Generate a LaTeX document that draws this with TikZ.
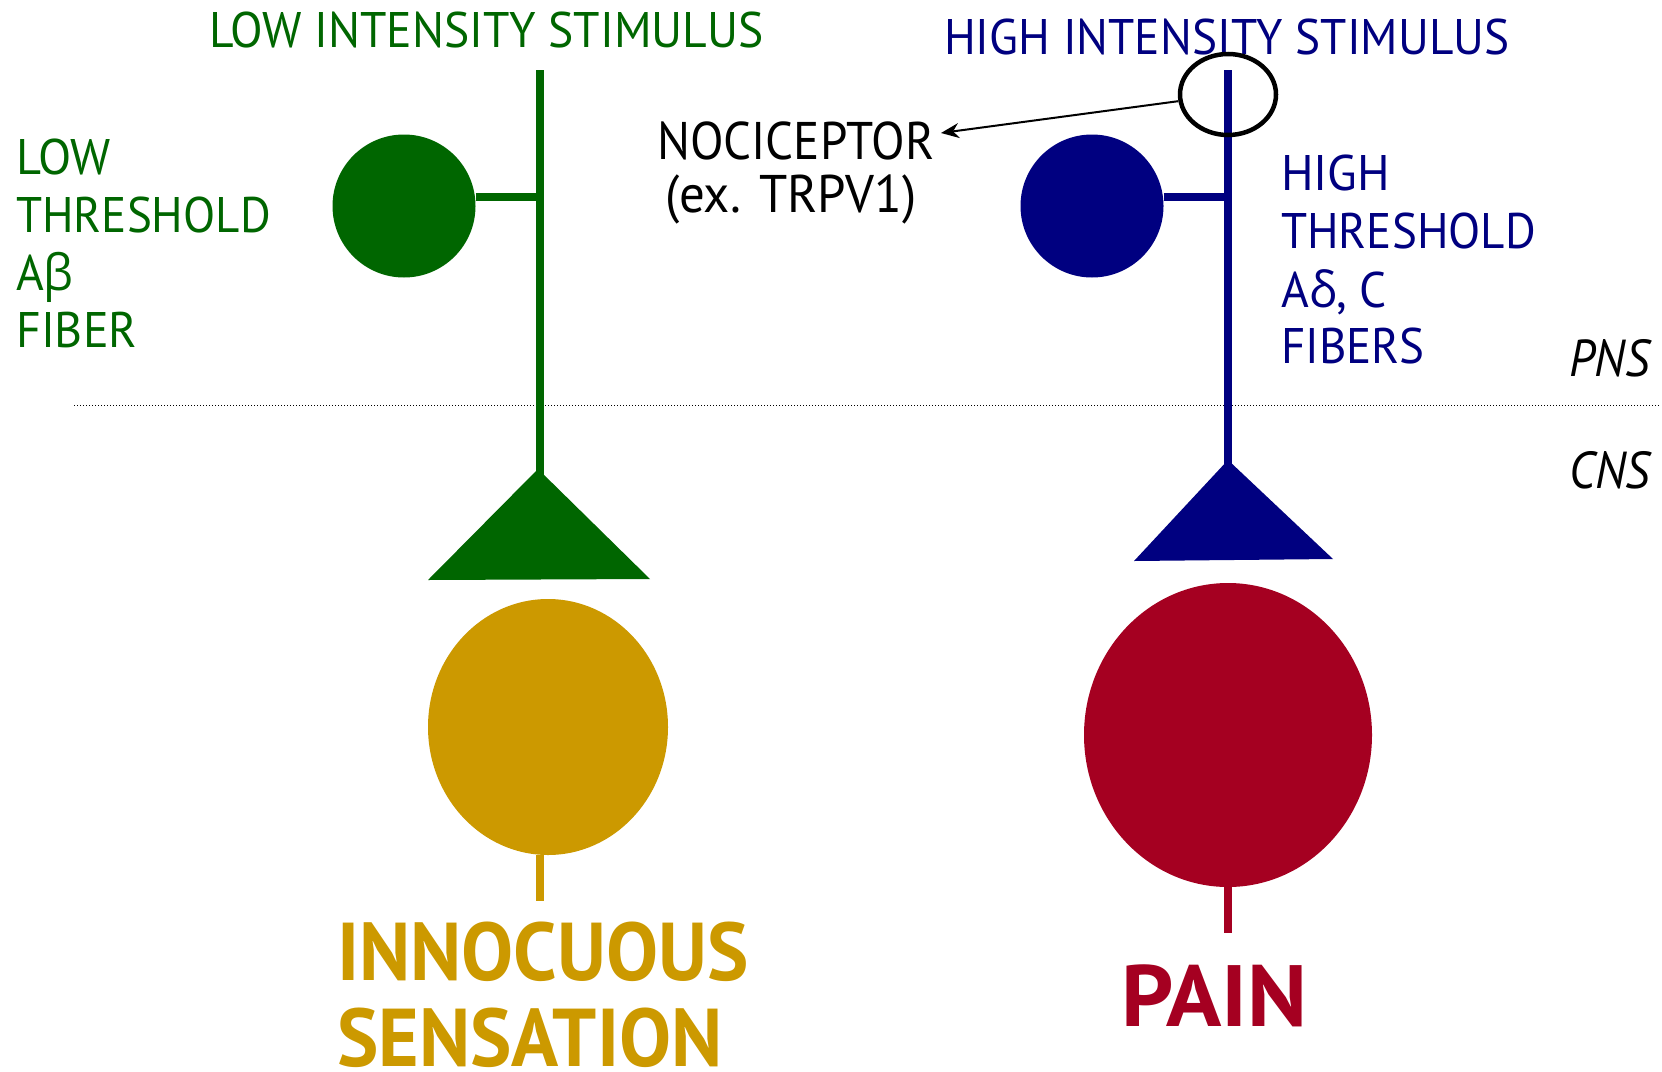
\documentclass[tikz,border=0pt]{standalone}
\usepackage{fontspec}
\setmainfont{PT Sans}
\newfontfamily\grk{Open Sans}
\usetikzlibrary{shapes.geometric,arrows.meta}
\definecolor{grn}{RGB}{0,102,0}
\definecolor{nav}{RGB}{0,0,128}
\definecolor{ylw}{RGB}{204,153,0}
\definecolor{rdd}{RGB}{165,0,33}
\newcommand\sqz[2]{\scalebox{#1}[1]{#2}}
\tikzset{
  lbl/.style={inner sep=0pt, anchor=base west, font=\fontsize{50}{57}\selectfont},
  ital/.style={inner sep=0pt, anchor=base west, font=\fontsize{52}{57}\selectfont\itshape},
  big/.style={inner sep=0pt, anchor=base west, font=\fontsize{82}{90}\selectfont\bfseries},
  soma/.style={circle, inner sep=0pt, minimum size=143pt},
  cell/.style={ellipse, inner sep=0pt},
  axon/.style={line width=7.5pt}
}
\begin{document}
\begin{tikzpicture}[x=1pt,y=-1pt]
\useasboundingbox[fill=white] (0,0) rectangle (1662,1071);

% titles
\node[lbl, text=grn] (tlow) at (209,47) {\sqz{0.952}{LOW INTENSITY STIMULUS}};
\node[lbl, text=nav] (thigh) at (944,54) {\sqz{0.946}{HIGH INTENSITY STIMULUS}};

% left labels
\node[lbl, text=grn] (l1) at (16,174) {\sqz{0.97}{LOW}};
\node[lbl, text=grn] (l2) at (16,232) {\sqz{0.94}{THRESHOLD}};
\node[lbl, text=grn] (l3) at (16,290) {\sqz{0.95}{A{\grk β}}};
\node[lbl, text=grn] (l4) at (16,347) {\sqz{0.96}{FIBER}};

% right labels
\node[lbl, text=nav] (r1) at (1281,190) {\sqz{0.97}{HIGH}};
\node[lbl, text=nav] (r2) at (1281,248) {\sqz{0.94}{THRESHOLD}};
\node[lbl, text=nav] (r3) at (1281,307) {\sqz{0.95}{A{\grk δ}, C}};
\node[lbl, text=nav] (r4) at (1281,363) {\sqz{0.94}{FIBERS}};

% nociceptor
\node[lbl, font=\fontsize{53}{57}\selectfont] (noci) at (657,159) {\sqz{0.925}{NOCICEPTOR}};
\node[lbl, font=\fontsize{53}{57}\selectfont] (trpv) at (665,212) {\sqz{0.96}{(ex. TRPV1)}};

% PNS / CNS
\node[ital] (pns) at (1569,376) {\sqz{0.92}{PNS}};
\node[ital] (cns) at (1569,488) {\sqz{0.92}{CNS}};
\draw[dotted, line width=1pt] (74,405) coordinate (dl) -- (1659,405) coordinate (dr);

% left neuron
\coordinate (gtop) at (540,70);
\coordinate (gbot) at (540,476);
\coordinate (gjoin) at (540,197);
\node[soma, fill=grn] (gsoma) at (404,206) {};
\draw[axon, grn] (gtop) -- (gbot);
\draw[axon, grn] (gsoma.east |- gjoin) -- (gjoin);
\coordinate (gapex) at (538,469);
\coordinate (gbl) at (428,580);
\coordinate (gbr) at (650,579);
\fill[grn] (gapex) -- (gbr) -- (gbl) -- cycle;

\node[cell, fill=ylw, minimum width=240pt, minimum height=256pt] (ycell) at (548,727) {};
\coordinate (ystub) at (540,901);
\draw[axon, ylw] (ycell.south -| ystub) -- (ystub);

% right neuron
\coordinate (btop) at (1228,70);
\coordinate (bbot) at (1228,466);
\coordinate (bjoin) at (1228,197);
\node[soma, fill=nav] (bsoma) at (1092,206) {};
\draw[axon, nav] (btop) -- (bbot);
\draw[axon, nav] (bsoma.east |- bjoin) -- (bjoin);
\coordinate (bapex) at (1228,460);
\coordinate (bbl) at (1134,561);
\coordinate (bbr) at (1333,559);
\fill[nav] (bapex) -- (bbr) -- (bbl) -- cycle;

\node[cell, fill=rdd, minimum width=288pt, minimum height=304pt] (rcell) at (1228,735) {};
\coordinate (rstub) at (1228,933);
\draw[axon, rdd] (rcell.south) -- (rstub);

% nociceptor marker
\node[cell, draw=black, line width=4.5pt, minimum width=96pt, minimum height=81pt] (ring) at (1228,94.5) {};
\coordinate (tip) at (941,133);
\draw[line width=2pt, -{Stealth[length=18pt,width=15pt]}] (ring) -- (tip);

% outcomes
\node[big, text=ylw] (inn) at (337,980) {\sqz{0.95}{INNOCUOUS}};
\node[big, text=ylw] (sens) at (337,1066) {\sqz{0.95}{SENSATION}};
\node[big, text=rdd, font=\fontsize{87}{90}\selectfont\bfseries] (pain) at (1121,1026) {\sqz{1.05}{PAIN}};
\end{tikzpicture}
\end{document}
